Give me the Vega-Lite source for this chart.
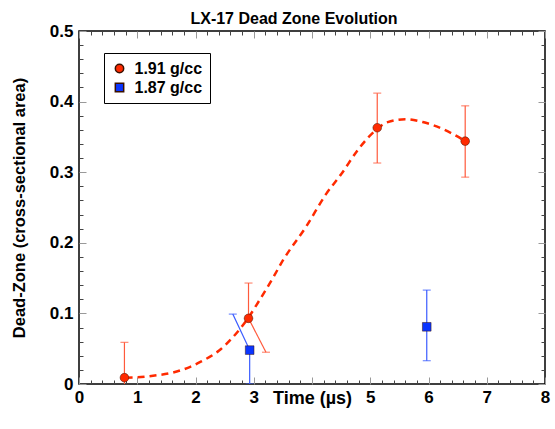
{
  "$schema": "https://vega.github.io/schema/vega-lite/v6.json",
  "width": 466,
  "height": 353,
  "autosize": {"type": "none"},
  "padding": {"left": 79, "top": 31, "right": 10, "bottom": 45},
  "background": "white",
  "config": {
    "view": {"stroke": "black", "strokeWidth": 1.5},
    "font": "Liberation Sans",
    "axis": {
      "grid": false,
      "domain": false,
      "labelFont": "Liberation Sans",
      "labelFontWeight": "bold",
      "labelFontSize": 17,
      "labelColor": "black",
      "labelFlush": false,
      "labelOverlap": false,
      "titleFont": "Liberation Sans",
      "titleFontWeight": "bold",
      "titleFontSize": 16.5,
      "titleColor": "black",
      "format": "~g"
    }
  },
  "title": {
    "text": "LX-17 Dead Zone Evolution",
    "font": "Liberation Sans",
    "fontSize": 16,
    "fontWeight": "bold",
    "color": "black",
    "anchor": "middle",
    "frame": "group",
    "baseline": "alphabetic",
    "offset": 0,
    "dx": -18,
    "dy": 18
  },
  "datasets": {
    "curve": [
      {"t": 0.8, "dz": 0.009},
      {"t": 1.0, "dz": 0.0095},
      {"t": 1.3, "dz": 0.012},
      {"t": 1.6, "dz": 0.016},
      {"t": 1.9, "dz": 0.024},
      {"t": 2.1, "dz": 0.032},
      {"t": 2.4, "dz": 0.047},
      {"t": 2.65, "dz": 0.067},
      {"t": 2.9, "dz": 0.093},
      {"t": 3.1, "dz": 0.119},
      {"t": 3.3, "dz": 0.146},
      {"t": 3.5, "dz": 0.175},
      {"t": 3.9, "dz": 0.223},
      {"t": 4.25, "dz": 0.27},
      {"t": 4.5, "dz": 0.297},
      {"t": 4.8, "dz": 0.333},
      {"t": 5.1, "dz": 0.36},
      {"t": 5.3, "dz": 0.371},
      {"t": 5.6, "dz": 0.375},
      {"t": 5.9, "dz": 0.371},
      {"t": 6.1, "dz": 0.366},
      {"t": 6.4, "dz": 0.355},
      {"t": 6.63, "dz": 0.344}
    ],
    "pts": [
      {"series": "1.91 g/cc", "t": 0.78, "dz": 0.009, "t_hi": 0.78, "dz_hi": 0.059, "t_lo": 0.78, "dz_lo": -0.041},
      {"series": "1.91 g/cc", "t": 2.91, "dz": 0.093, "t_hi": 2.91, "dz_hi": 0.143, "t_lo": 3.21, "dz_lo": 0.045},
      {"series": "1.91 g/cc", "t": 5.12, "dz": 0.363, "t_hi": 5.12, "dz_hi": 0.412, "t_lo": 5.12, "dz_lo": 0.313},
      {"series": "1.91 g/cc", "t": 6.63, "dz": 0.344, "t_hi": 6.63, "dz_hi": 0.394, "t_lo": 6.63, "dz_lo": 0.293},
      {"series": "1.87 g/cc", "t": 2.93, "dz": 0.048, "t_hi": 2.64, "dz_hi": 0.099, "t_lo": 2.93, "dz_lo": 0},
      {"series": "1.87 g/cc", "t": 5.97, "dz": 0.081, "t_hi": 5.97, "dz_hi": 0.133, "t_lo": 5.97, "dz_lo": 0.033}
    ]
  },
  "layer": [
    {
      "data": {"name": "curve"},
      "mark": {"type": "line", "interpolate": "monotone", "color": "#ff2a00", "strokeWidth": 2.5, "strokeDash": [7, 5], "clip": true},
      "encoding": {
        "x": {
          "field": "t", "type": "quantitative",
          "scale": {"domain": [0, 8], "nice": false, "zero": false},
          "axis": {
            "orient": "bottom",
            "values": [0, 1, 2, 3, 4, 5, 6, 7, 8],
            "tickSize": -7,
            "tickColor": "#999999",
            "labelPadding": 12,
            "labelExpr": "datum.value == 4 ? '' : datum.label",
            "title": "Time (µs)",
            "titleFontSize": 18,
            "titleBaseline": "alphabetic",
            "titleY": 19
          }
        },
        "y": {
          "field": "dz", "type": "quantitative",
          "scale": {"domain": [0, 0.5], "nice": false, "zero": false},
          "axis": {
            "orient": "left",
            "values": [0, 0.1, 0.2, 0.3, 0.4, 0.5],
            "tickSize": -7,
            "tickColor": "#999999",
            "labelPadding": 13,
            "title": "Dead-Zone (cross-sectional area)",
            "titleX": -60,
            "titleY": 176.5,
            "titleBaseline": "middle"
          }
        }
      }
    },
    {
      "data": {"name": "pts"},
      "mark": {"type": "rule", "strokeWidth": 1.2, "clip": true},
      "encoding": {
        "x": {
          "field": "t", "type": "quantitative",
          "axis": {
            "orient": "bottom",
            "values": [0.2, 0.4, 0.6, 0.8, 1.2, 1.4, 1.6, 1.8, 2.2, 2.4, 2.6, 2.8, 3.2, 3.4, 3.6, 3.8, 4.2, 4.4, 4.6, 4.8, 5.2, 5.4, 5.6, 5.8, 6.2, 6.4, 6.6, 6.8, 7.2, 7.4, 7.6, 7.8],
            "tickSize": -4, "tickColor": "#444444", "labels": false, "title": null
          }
        },
        "y": {
          "field": "dz", "type": "quantitative",
          "axis": {
            "orient": "left",
            "values": [0.02, 0.04, 0.06, 0.08, 0.12, 0.14, 0.16, 0.18, 0.22, 0.24, 0.26, 0.28, 0.32, 0.34, 0.36, 0.38, 0.42, 0.44, 0.46, 0.48],
            "tickSize": -4, "tickColor": "#444444", "labels": false, "title": null
          }
        },
        "x2": {"field": "t_hi"},
        "y2": {"field": "dz_hi"},
        "stroke": {"field": "series", "type": "nominal", "scale": {"domain": ["1.87 g/cc", "1.91 g/cc"], "range": ["#3a5cff", "#ff5a3c"]}, "legend": null}
      }
    },
    {
      "data": {"name": "pts"},
      "mark": {"type": "rule", "strokeWidth": 1.2, "clip": true},
      "encoding": {
        "x": {
          "field": "t", "type": "quantitative",
          "axis": {
            "orient": "top",
            "values": [0, 1, 2, 3, 4, 5, 6, 7, 8],
            "tickSize": -7, "tickColor": "#999999", "labels": false, "title": null
          }
        },
        "y": {
          "field": "dz", "type": "quantitative",
          "axis": {
            "orient": "right",
            "values": [0, 0.1, 0.2, 0.3, 0.4, 0.5],
            "tickSize": -7, "tickColor": "#999999", "labels": false, "title": null
          }
        },
        "x2": {"field": "t_lo"},
        "y2": {"field": "dz_lo"},
        "stroke": {"field": "series", "type": "nominal", "legend": null}
      }
    },
    {
      "data": {"name": "pts"},
      "mark": {"type": "tick", "orient": "horizontal", "size": 8, "thickness": 1.2, "clip": true},
      "encoding": {
        "x": {
          "field": "t_hi", "type": "quantitative",
          "axis": {
            "orient": "top",
            "values": [0.2, 0.4, 0.6, 0.8, 1.2, 1.4, 1.6, 1.8, 2.2, 2.4, 2.6, 2.8, 3.2, 3.4, 3.6, 3.8, 4.2, 4.4, 4.6, 4.8, 5.2, 5.4, 5.6, 5.8, 6.2, 6.4, 6.6, 6.8, 7.2, 7.4, 7.6, 7.8],
            "tickSize": -4, "tickColor": "#444444", "labels": false, "title": null
          }
        },
        "y": {
          "field": "dz_hi", "type": "quantitative",
          "axis": {
            "orient": "right",
            "values": [0.02, 0.04, 0.06, 0.08, 0.12, 0.14, 0.16, 0.18, 0.22, 0.24, 0.26, 0.28, 0.32, 0.34, 0.36, 0.38, 0.42, 0.44, 0.46, 0.48],
            "tickSize": -4, "tickColor": "#444444", "labels": false, "title": null
          }
        },
        "color": {"field": "series", "type": "nominal", "scale": {"domain": ["1.87 g/cc", "1.91 g/cc"], "range": ["#3a5cff", "#ff5a3c"]}, "legend": null}
      }
    },
    {
      "data": {"name": "pts"},
      "mark": {"type": "tick", "orient": "horizontal", "size": 8, "thickness": 1.2, "clip": true},
      "encoding": {
        "x": {"field": "t_lo", "type": "quantitative", "axis": null},
        "y": {"field": "dz_lo", "type": "quantitative", "axis": null},
        "color": {"field": "series", "type": "nominal", "legend": null}
      }
    },
    {
      "data": {"name": "pts"},
      "mark": {"type": "point", "filled": true, "size": 75, "opacity": 1, "stroke": "#3a1000", "strokeWidth": 0.7, "strokeOpacity": 0.7},
      "encoding": {
        "x": {"field": "t", "type": "quantitative", "axis": null},
        "y": {"field": "dz", "type": "quantitative", "axis": null},
        "fill": {
          "field": "series", "type": "nominal",
          "scale": {"domain": ["1.91 g/cc", "1.87 g/cc"], "range": ["#ff2a00", "#0a35ff"]},
          "legend": {
            "orient": "none", "legendX": 25, "legendY": 22,
            "title": null,
            "strokeColor": "black", "fillColor": "white",
            "padding": 7.5,
            "labelFont": "Liberation Sans", "labelFontSize": 16, "labelFontWeight": "bold", "labelColor": "black",
            "labelOffset": 7, "rowPadding": 3, "symbolSize": 70
          }
        },
        "shape": {
          "field": "series", "type": "nominal",
          "scale": {"domain": ["1.91 g/cc", "1.87 g/cc"], "range": ["circle", "square"]},
          "legend": {
            "orient": "none", "legendX": 25, "legendY": 22,
            "title": null,
            "strokeColor": "black", "fillColor": "white",
            "padding": 7.5,
            "labelFont": "Liberation Sans", "labelFontSize": 16, "labelFontWeight": "bold", "labelColor": "black",
            "labelOffset": 7, "rowPadding": 3, "symbolSize": 70
          }
        }
      }
    }
  ],
  "resolve": {"axis": {"x": "independent", "y": "independent"}}
}
